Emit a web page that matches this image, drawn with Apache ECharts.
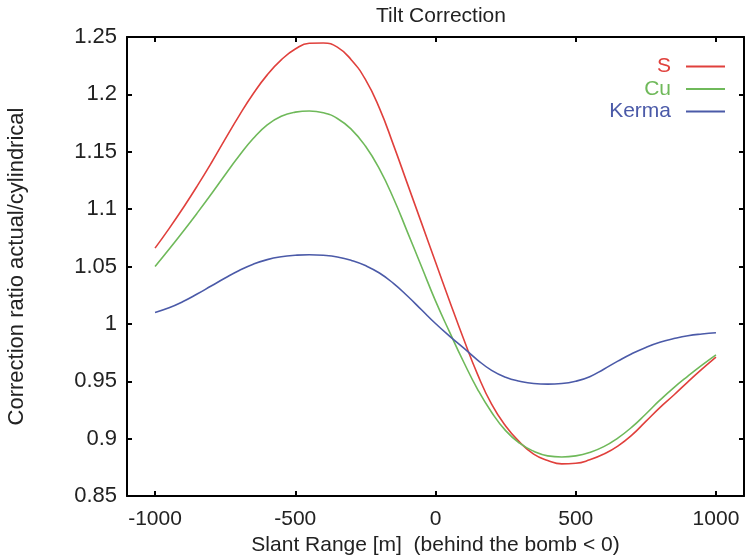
<!DOCTYPE html>
<html>
<head>
<meta charset="utf-8">
<script src="https://cdn.jsdelivr.net/npm/echarts@6/dist/echarts.min.js"></script>
<style>html,body{margin:0;padding:0;background:#fff}#c{width:746px;height:559px}</style>
</head>
<body>
<div id="c"></div>
<script>
const slantRange = [-1000,-950,-900,-850,-800,-750,-700,-650,-600,-550,-500,-450,-400,-350,-300,-250,-200,-150,-100,-50,0,50,100,150,200,250,300,350,400,450,500,550,600,650,700,750,800,850,900,950,1000];
const sValues = [1.066,1.083,1.101,1.120,1.140,1.161,1.1815,1.2005,1.217,1.230,1.2395,1.2445,1.2448,1.2412,1.230,1.213,1.188,1.156,1.122,1.088,1.054,1.020,0.987,0.956,0.930,0.911,0.897,0.8865,0.881,0.878,0.8785,0.8815,0.8865,0.8935,0.903,0.915,0.927,0.938,0.9495,0.9605,0.971];
const cuValues = [1.050,1.065,1.0805,1.0965,1.113,1.130,1.1465,1.1615,1.1735,1.181,1.1845,1.1855,1.184,1.179,1.1695,1.155,1.135,1.1095,1.080,1.050,1.020,0.993,0.967,0.943,0.923,0.907,0.896,0.889,0.885,0.884,0.885,0.888,0.893,0.9005,0.910,0.9215,0.9335,0.9445,0.9545,0.964,0.973];
const kermaValues = [1.010,1.014,1.0195,1.026,1.033,1.040,1.0465,1.052,1.056,1.0585,1.0598,1.0603,1.0598,1.0583,1.0553,1.0508,1.0443,1.0353,1.0243,1.0123,1.0003,0.9893,0.979,0.9685,0.9595,0.9535,0.950,0.948,0.9475,0.948,0.950,0.954,0.9605,0.9675,0.974,0.9795,0.984,0.9872,0.9897,0.9912,0.9922];
const xTicks = [-1000,-500,0,500,1000];
const seriesNames = ['S','Cu','Kerma'];
const colors = ['#e0403c','#6fb95a','#4b5aa8'];

function pairs(vals){ return slantRange.map((x,i)=>[x,vals[i]]); }
const allValues = [sValues, cuValues, kermaValues];

const font = 'Liberation Sans, Arial, sans-serif';
const txt = '#222';
const fs = 21;
const chart = echarts.init(document.getElementById('c'), null, {renderer:'canvas'});
const xCommon = {
  type:'value', min:-1100, max:1100,
  axisLine:{show:true, onZero:false, lineStyle:{color:'#000', width:2}},
  axisTick:{show:true, inside:true, length:5, customValues:xTicks, lineStyle:{color:'#000', width:2}},
  splitLine:{show:false}
};
const yCommon = {
  type:'value', min:0.85, max:1.25, interval:0.05,
  axisLine:{show:true, onZero:false, lineStyle:{color:'#000', width:2}},
  axisTick:{show:true, inside:true, length:5, lineStyle:{color:'#000', width:2}},
  splitLine:{show:false}
};
chart.setOption({
  animation:false,
  backgroundColor:'#fff',
  title:{text:'Tilt Correction', left:436, top:1, textAlign:'center',
    textStyle:{fontFamily:font, fontSize:21, fontWeight:'normal', color:txt}},
  legend:{
    orient:'vertical', right:16, top:51, align:'right',
    icon:'rect', itemWidth:39, itemHeight:2, itemGap:1.5,
    data: seriesNames.map((n,i)=>({name:n, textStyle:{color:colors[i]}})),
    textStyle:{fontFamily:font, fontSize:fs, lineHeight:20, padding:[0,10,0,0]}
  },
  grid:{left:127, top:37, right:2, bottom:63, containLabel:false, outerBoundsMode:'none'},
  xAxis:[
    Object.assign({}, xCommon, {position:'bottom',
      name:'Slant Range [m]  (behind the bomb < 0)', nameLocation:'middle', nameGap:33,
      nameTextStyle:{fontFamily:font, fontSize:fs, color:txt},
      axisLabel:{show:true, customValues:xTicks, margin:13, fontFamily:font, fontSize:fs, color:txt,
        formatter:v=>String(v)}}),
    Object.assign({}, xCommon, {position:'top', axisLabel:{show:false}})
  ],
  yAxis:[
    Object.assign({}, yCommon, {position:'left',
      name:'Correction ratio actual/cylindrical', nameLocation:'middle', nameGap:99,
      nameTextStyle:{fontFamily:font, fontSize:22, color:txt},
      axisLabel:{show:true, margin:10, fontFamily:font, fontSize:22, color:txt,
        formatter:v=>String(parseFloat(v.toFixed(2)))}}),
    Object.assign({}, yCommon, {position:'right', axisLabel:{show:false}})
  ],
  series: seriesNames.map((n,i)=>({
    name:n, type:'line', smooth:0.5, symbol:'none', showSymbol:false,
    data:pairs(allValues[i]),
    lineStyle:{color:colors[i], width:1.6}, itemStyle:{color:colors[i]}
  }))
});
</script>
</body>
</html>
